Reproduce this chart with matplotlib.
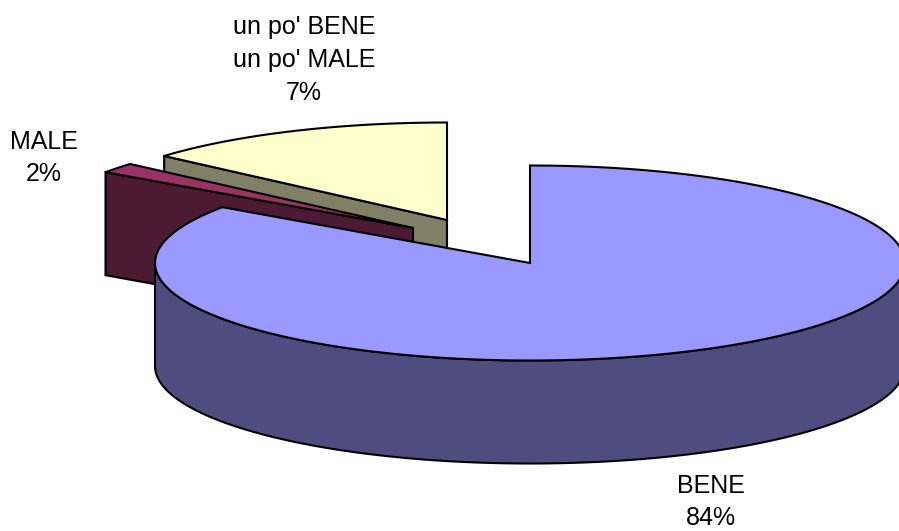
import numpy as np
import matplotlib
matplotlib.use("Agg")
import matplotlib.pyplot as plt
from matplotlib.patches import Polygon

# Data: share of the circle drawn for each slice
categories = ["BENE", "MALE", "un po' BENE\nun po' MALE"]
slice_shares = [84.7, 1.7, 13.6]
label_percent = ["84%", "2%", "7%"]

# Styles / layout (pixel space)
top_colors = ["#9999FF", "#993366", "#FFFFCC"]
side_colors = ["#4D4D80", "#4D1A33", "#808066"]
centers = [(530, 263), (413, 228), (447, 220)]
label_pos = [(711, 502), (44, 158), (304, 60)]
RX, RY, DEPTH = 375, 97.5, 103
LW = 1.5

fig = plt.figure(figsize=(8.99, 5.31), dpi=100)
ax = fig.add_axes([0, 0, 1, 1])
ax.set_xlim(0, 899)
ax.set_ylim(531, 0)
ax.axis("off")


def arc(c, a0, a1, n=200):
    # angles: degrees clockwise from 12 o'clock
    t = np.radians(np.linspace(a0, a1, n))
    return np.column_stack([c[0] + RX * np.sin(t), c[1] - RY * np.cos(t)])


def extrude(pts):
    return np.vstack([pts, (pts + [0, DEPTH])[::-1]])


edges = np.concatenate([[0], np.cumsum(slice_shares)]) * 3.6
# paint back to front: yellow, maroon, blue
for i in [2, 1, 0]:
    a0, a1 = edges[i], edges[i + 1]
    c = np.array(centers[i], float)
    rim = arc(c, a0, a1)
    top = np.vstack([c, rim])
    # cut face running from the rim's start (far left) to the centre
    if i in (1, 2):
        face = np.vstack([rim[0], c])
        ax.add_patch(Polygon(extrude(face), closed=True, fc=side_colors[i],
                             ec="black", lw=LW, joinstyle="miter"))
    else:
        # visible outer wall: lower half of the rim
        lo, hi = max(a0, 90), min(a1, 270)
        wall = arc(c, lo, hi)
        ax.add_patch(Polygon(extrude(wall), closed=True, fc=side_colors[i],
                             ec="black", lw=LW, joinstyle="miter"))
    ax.add_patch(Polygon(top, closed=True, fc=top_colors[i], ec="black",
                         lw=LW, joinstyle="miter"))

font = ["Liberation Sans", "DejaVu Sans"]
for cat, pct, (x, y) in zip(categories, label_percent, label_pos):
    ax.text(x, y, f"{cat}\n{pct}", ha="center", va="center", fontsize=18,
            family=font, color="black", linespacing=1.47)

fig.savefig("out.png", dpi=100, facecolor="white")
